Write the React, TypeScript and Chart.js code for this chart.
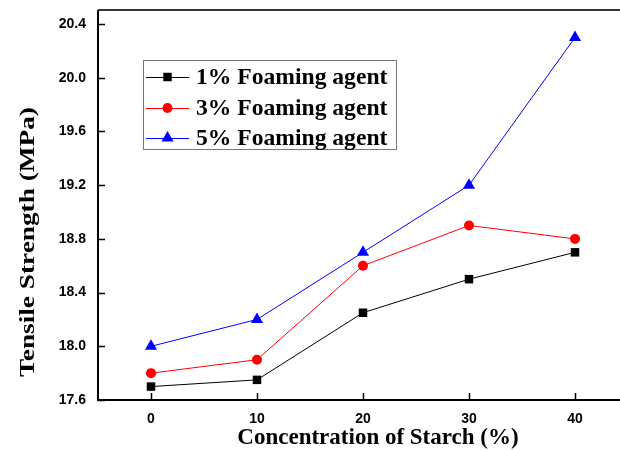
import React, { useEffect, useRef } from "react";
import { Chart, registerables } from "chart.js";

Chart.register(...registerables);

// Starch concentration (%) on the x axis
const starchLevels = [0, 10, 20, 30, 40];
// Tensile strength (MPa) for each foaming agent dosage
const agent1 = [17.7, 17.75, 18.25, 18.5, 18.7];
const agent3 = [17.8, 17.9, 18.6, 18.9, 18.8];
const agent5 = [18.0, 18.2, 18.7, 19.2, 20.3];
const seriesLabels = ["1% Foaming agent", "3% Foaming agent", "5% Foaming agent"];
const seriesColors = ["#000000", "#ff0000", "#0000ff"];
const seriesShapes = ["rect", "circle", "triangle"];
const seriesRadii = [6, 5, 7];

const xTicks = [0, 10, 20, 30, 40];
const yTicks = [17.6, 18.0, 18.4, 18.8, 19.2, 19.6, 20.0, 20.4];

const xTitle = "Concentration of Starch (%)";
const yTitle = "Tensile Strength (MPa)";

const SERIF = "'Liberation Serif', 'Times New Roman', serif";
const SANS = "'Liberation Sans', Arial, sans-serif";

function drawMarker(ctx: CanvasRenderingContext2D, shape: string, x: number, y: number, r: number, color: string) {
  ctx.save();
  ctx.fillStyle = color;
  ctx.beginPath();
  if (shape === "rect") {
    const s = Math.SQRT1_2 * r;
    ctx.rect(x - s, y - s, 2 * s, 2 * s);
  } else if (shape === "circle") {
    ctx.arc(x, y, r, 0, Math.PI * 2);
  } else {
    ctx.moveTo(x, y - r);
    ctx.lineTo(x + 0.866 * r, y + 0.5 * r);
    ctx.lineTo(x - 0.866 * r, y + 0.5 * r);
    ctx.closePath();
  }
  ctx.fill();
  ctx.restore();
}

// Frame, inward tick marks, axis titles and the boxed legend
const framePlugin = {
  id: "frame",
  afterDraw(chart: any) {
    const { ctx, chartArea } = chart;
    const { left, right, top, bottom } = chartArea;
    const xs = chart.scales.x;
    const ys = chart.scales.y;
    ctx.save();

    // axis lines
    ctx.strokeStyle = "#000";
    ctx.lineWidth = 2;
    ctx.beginPath();
    ctx.moveTo(left, top);
    ctx.lineTo(left, bottom);
    ctx.lineTo(right + 20, bottom);
    ctx.stroke();
    ctx.strokeStyle = "#333";
    ctx.beginPath();
    ctx.moveTo(left, top);
    ctx.lineTo(right + 20, top);
    ctx.stroke();

    // inward ticks
    ctx.strokeStyle = "#000";
    ctx.lineWidth = 1.5;
    ctx.beginPath();
    xTicks.forEach((v) => {
      const px = Math.round(xs.getPixelForValue(v)) + 0.5;
      ctx.moveTo(px, bottom);
      ctx.lineTo(px, bottom - 7);
    });
    yTicks.forEach((v) => {
      const py = Math.round(ys.getPixelForValue(v)) + 0.5;
      ctx.moveTo(left, py);
      ctx.lineTo(left + 7, py);
    });
    ctx.stroke();

    // axis titles
    ctx.fillStyle = "#000";
    ctx.font = `bold 23px ${SERIF}`;
    ctx.textAlign = "center";
    ctx.textBaseline = "middle";
    ctx.fillText(xTitle, left + 280, bottom + 38);

    ctx.save();
    ctx.font = `bold 22px ${SERIF}`;
    ctx.translate(left - 70, top + 232);
    ctx.rotate(-Math.PI / 2);
    ctx.scale(1.24, 1);
    ctx.fillText(yTitle, 0, 0);
    ctx.restore();

    // legend
    const bx = left + 45;
    const by = top + 50;
    const bw = 253;
    const bh = 89;
    ctx.fillStyle = "#fff";
    ctx.fillRect(bx, by, bw, bh);
    ctx.strokeStyle = "#777";
    ctx.lineWidth = 1;
    ctx.strokeRect(bx + 0.5, by + 0.5, bw, bh);
    const rows = [17, 48, 78];
    ctx.font = `bold 23.6px ${SERIF}`;
    ctx.textAlign = "left";
    seriesLabels.forEach((label, i) => {
      const ry = by + rows[i];
      ctx.strokeStyle = seriesColors[i];
      ctx.lineWidth = 1;
      ctx.beginPath();
      ctx.moveTo(bx + 3, ry + 0.5);
      ctx.lineTo(bx + 46, ry + 0.5);
      ctx.stroke();
      drawMarker(ctx, seriesShapes[i], bx + 24.5, ry, seriesRadii[i], seriesColors[i]);
      ctx.fillStyle = "#000";
      ctx.fillText(label, bx + 53, ry + 1);
    });

    ctx.restore();
  },
};

export default function App() {
  const canvasRef = useRef<HTMLCanvasElement | null>(null);

  useEffect(() => {
    const canvas = canvasRef.current;
    if (!canvas) return;
    const series = [agent1, agent3, agent5];
    const tickFont = { family: SANS, weight: "bold" as const, size: 14 };
    const chart = new Chart(canvas, {
      type: "line",
      data: {
        datasets: series.map((vals, i) => ({
          label: seriesLabels[i],
          data: starchLevels.map((x, j) => ({ x, y: vals[j] })),
          borderColor: seriesColors[i],
          backgroundColor: seriesColors[i],
          borderWidth: 1,
          pointStyle: seriesShapes[i] as any,
          pointRadius: seriesRadii[i],
          pointBorderWidth: 0,
          tension: 0,
          fill: false,
        })),
      },
      options: {
        responsive: false,
        animation: false,
        devicePixelRatio: 1,
        layout: { padding: { top: 10, right: 12, left: 0, bottom: 0 } },
        plugins: { legend: { display: false }, tooltip: { enabled: false } },
        scales: {
          x: {
            type: "linear",
            min: -5,
            max: 45,
            afterBuildTicks: (s: any) => {
              s.ticks = xTicks.map((v) => ({ value: v }));
            },
            afterFit: (s: any) => {
              s.height = 50;
              s.paddingLeft = 0;
              s.paddingRight = 0;
            },
            grid: { display: false, drawTicks: false, tickLength: 0 },
            border: { display: false },
            ticks: {
              autoSkip: false,
              maxRotation: 0,
              padding: 11,
              color: "#000",
              font: tickFont,
              callback: (v: any) => String(v),
            },
          },
          y: {
            type: "linear",
            min: 17.6,
            max: 20.505,
            afterBuildTicks: (s: any) => {
              s.ticks = yTicks.map((v) => ({ value: v }));
            },
            afterFit: (s: any) => {
              s.width = 98;
              s.paddingTop = 0;
              s.paddingBottom = 0;
            },
            grid: { display: false, drawTicks: false, tickLength: 0 },
            border: { display: false },
            ticks: {
              autoSkip: false,
              padding: 12,
              color: "#000",
              font: tickFont,
              callback: (v: any) => Number(v).toFixed(1),
            },
          },
        },
      },
      plugins: [framePlugin],
    });
    return () => chart.destroy();
  }, []);

  return (
    <div
      style={{
        position: "fixed",
        left: 0,
        top: 0,
        width: 620,
        height: 450,
        overflow: "hidden",
        background: "#fff",
      }}
    >
      <canvas ref={canvasRef} width={640} height={450} style={{ display: "block" }} />
    </div>
  );
}
